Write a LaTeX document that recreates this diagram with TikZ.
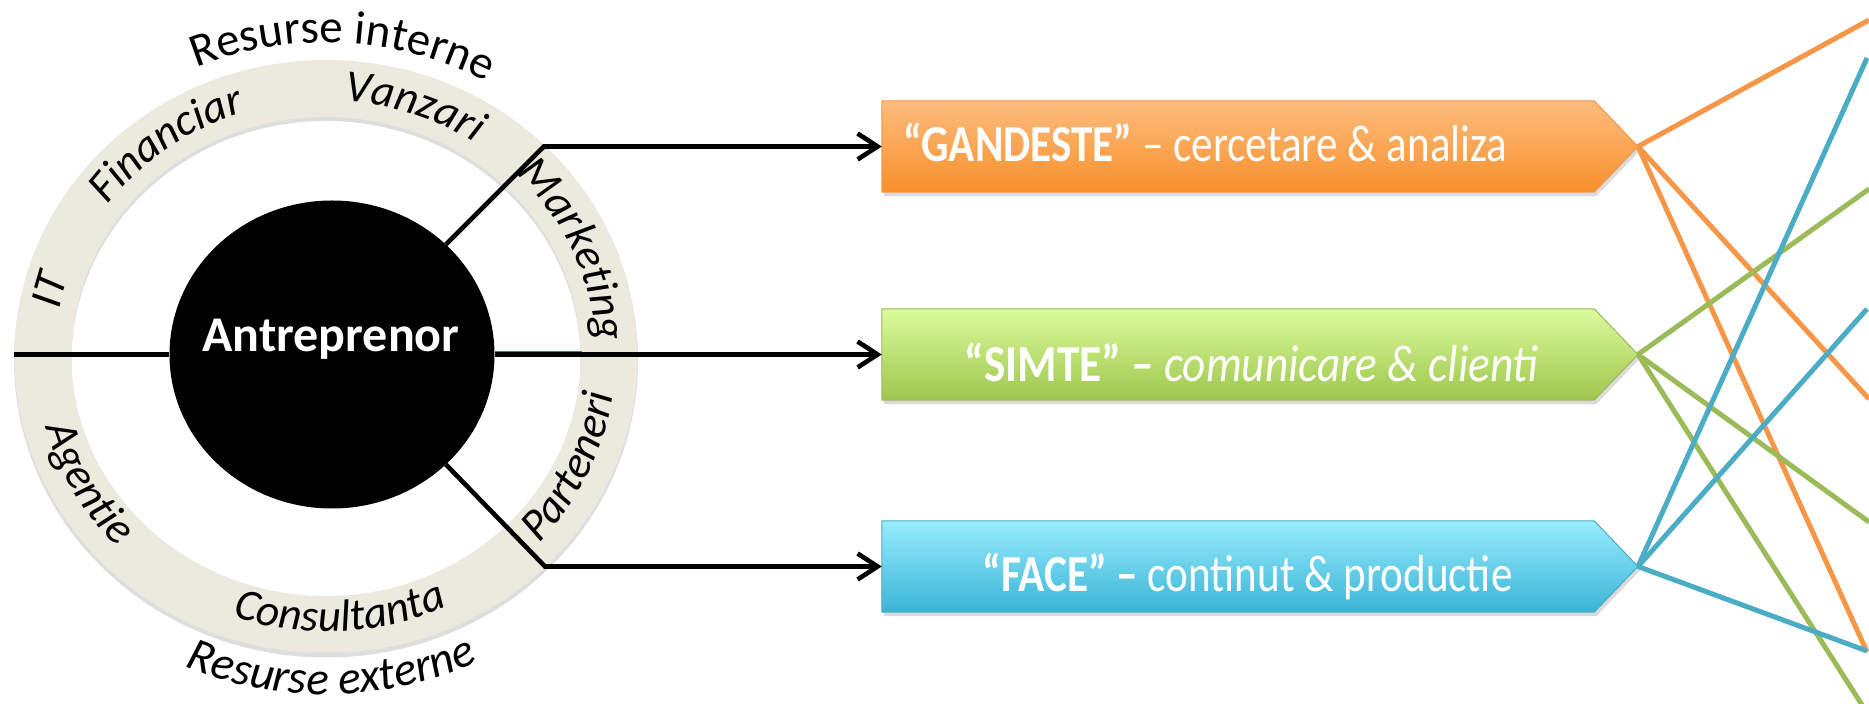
\documentclass[tikz,border=0pt]{standalone}
\usepackage{fontspec}
\setmainfont{Carlito}
\usepackage{graphicx}
\usetikzlibrary{arrows.meta,shapes.geometric,decorations.text,calc}
\definecolor{ringc}{RGB}{236,234,223}
\definecolor{oline}{RGB}{247,150,70}
\definecolor{gline}{RGB}{155,187,89}
\definecolor{bline}{RGB}{75,172,198}
\definecolor{otop}{RGB}{253,188,125}
\definecolor{obot}{RGB}{247,144,44}
\definecolor{gtop}{RGB}{219,251,156}
\definecolor{gbot}{RGB}{158,198,76}
\definecolor{btop}{RGB}{152,236,253}
\definecolor{bbot}{RGB}{58,180,214}
\definecolor{thinblue}{RGB}{68,114,196}
\newcommand\ringfont{\itshape\fontsize{45}{45}\selectfont}
\newcommand\outfont{\fontsize{47}{47}\selectfont}
\newcommand\outfontit{\itshape\fontsize{47}{47}\selectfont}
\newcommand\boxtext[2][0.83]{\scalebox{#1}[1]{\fontsize{52}{52}\selectfont #2}}
\begin{document}
\begin{tikzpicture}[x=1pt,y=1pt,
  conn/.style={line width=4.6pt, black},
  arr/.style={conn, -{Straight Barb[length=20pt,width=26pt]}},
  fanline/.style={line width=5pt},
  boxtxt/.style={inner sep=0pt, text=white},
  arclabel/.style={decorate, decoration={text along path, text align=center, text={#1}}},
  slot/.style={rectangle, minimum width=712pt, minimum height=91pt, inner sep=0pt},
  boxshadow/.style={fill=black, opacity=0.14},
]
\useasboundingbox (0,0) rectangle (1869,704);
\clip (0,0) rectangle (1869,704);

% ---------- ring ----------
\coordinate (rc) at (326,347.5);
\fill[black, opacity=0.13, even odd rule] ($(rc)+(0,-4)$) ellipse[x radius=312, y radius=297] ($(rc)+(0,-4)$) ellipse[x radius=254.5, y radius=239.5];
\fill[ringc, even odd rule] (rc) ellipse[x radius=311.5, y radius=296.5] (rc) ellipse[x radius=254.5, y radius=239.5];

% ring labels
\path[arclabel={|\ringfont|IT}] ($(rc)+(196:271 and 256)$) arc[start angle=196, end angle=136, x radius=271, y radius=256];
\path[arclabel={|\ringfont|Financiar}] ($(rc)+(166:271 and 256)$) arc[start angle=166, end angle=86, x radius=271, y radius=256];
\path[arclabel={|\ringfont|Vanzari}] ($(rc)+(111:271 and 256)$) arc[start angle=111, end angle=31, x radius=271, y radius=256];
\path[arclabel={|\ringfont|Marketing}] ($(rc)+(64:271 and 256)$) arc[start angle=64, end angle=-16, x radius=271, y radius=256];
\path[arclabel={|\ringfont|Parteneri}] ($(rc)+(-65:290 and 275)$) arc[start angle=-65, end angle=15, x radius=290, y radius=275];
\path[arclabel={|\ringfont|Consultanta}] ($(rc)+(-127:290 and 275)$) arc[start angle=-127, end angle=-47, x radius=290, y radius=275];
\path[arclabel={|\ringfont|Agentie}] ($(rc)+(169:290 and 275)$) arc[start angle=169, end angle=249, x radius=290, y radius=275];
\path[arclabel={|\outfont|Resurse interne}] ($(rc)+(130:332 and 314)$) arc[start angle=130, end angle=44, x radius=332, y radius=314];
\path[arclabel={|\outfontit|Resurse externe}] ($(rc)+(-134:355 and 338)$) arc[start angle=-134, end angle=-44, x radius=355, y radius=338];

% ---------- centre ----------
\node[ellipse, fill=black, minimum width=325pt, minimum height=308pt, inner sep=0pt] (antre) at (332,349.5) {};
\node[text=white, font=\bfseries\fontsize{50}{50}\selectfont, anchor=base, inner sep=0pt] (antrelabel) at (331,352) {Antreprenor};

\coordinate (ringL) at (14,349.5);
\coordinate (cutT) at (544,557.5);
\coordinate (cutB) at (545,137.5);
\coordinate (blueend) at (582,352.5);

% ---------- boxes ----------
\node[slot] (gandeste) at (1238,557.5) {};
\node[slot] (simte) at (1238,349.5) {};
\node[slot] (face) at (1238,137.5) {};
\coordinate (gandestetip) at (1638,557.5);
\coordinate (simtetip) at (1638,349.5);
\coordinate (facetip) at (1638,137.5);

\fill[boxshadow] ($(gandeste.north west)+(2,-4)$) -- ($(gandeste.north east)+(2,-4)$) -- ($(gandestetip)+(2,-4)$) -- ($(gandeste.south east)+(2,-4)$) -- ($(gandeste.south west)+(2,-4)$) -- cycle;
\fill[boxshadow] ($(simte.north west)+(2,-4)$) -- ($(simte.north east)+(2,-4)$) -- ($(simtetip)+(2,-4)$) -- ($(simte.south east)+(2,-4)$) -- ($(simte.south west)+(2,-4)$) -- cycle;
\fill[boxshadow] ($(face.north west)+(2,-4)$) -- ($(face.north east)+(2,-4)$) -- ($(facetip)+(2,-4)$) -- ($(face.south east)+(2,-4)$) -- ($(face.south west)+(2,-4)$) -- cycle;

\shade[top color=otop, bottom color=obot, draw=oline, line width=1pt] (gandeste.north west) -- (gandeste.north east) -- (gandestetip) -- (gandeste.south east) -- (gandeste.south west) -- cycle;
\shade[top color=gtop, bottom color=gbot, draw=gline, line width=1pt] (simte.north west) -- (simte.north east) -- (simtetip) -- (simte.south east) -- (simte.south west) -- cycle;
\shade[top color=btop, bottom color=bbot, draw=bline, line width=1pt] (face.north west) -- (face.north east) -- (facetip) -- (face.south east) -- (face.south west) -- cycle;

\node[boxtxt, anchor=base west] (gandestetext) at (903,542) {\boxtext{\textbf{“GANDESTE”} – cercetare \& analiza}};
\node[boxtxt, anchor=base] (simtetext) at (1251.5,322) {\boxtext[0.87]{\textbf{“SIMTE” –} \textit{comunicare \& clienti}}};
\node[boxtxt, anchor=base] (facetext) at (1247.5,112) {\boxtext{\textbf{“FACE” –} continut \& productie}};

% ---------- connectors ----------
\draw[thinblue, line width=1.3pt] ($(antre.east)+(0,3)$) -- (blueend);
\draw[conn] (ringL) -- (antre.west);
\draw[arr] (antre.east) -- (simte.west);
\draw[arr] (antre.44) -- (cutT) -- (gandeste.west);
\draw[arr] (antre.-44) -- (cutB) -- (face.west);

% ---------- fan lines ----------
\coordinate (o1) at (1869,684);
\coordinate (o2) at (1869,305);
\coordinate (o3) at (1867,52);
\coordinate (g1) at (1869,515);
\coordinate (g2) at (1869,182);
\coordinate (g3) at (1864,-4);
\coordinate (b1) at (1867,646);
\coordinate (b2) at (1867,395);
\coordinate (b3) at (1867,53);

\draw[fanline, oline] (gandestetip) -- (o1);
\draw[fanline, oline] (gandestetip) -- (o2);
\draw[fanline, oline] (gandestetip) -- (o3);
\draw[fanline, gline] (simtetip) -- (g1);
\draw[fanline, gline] (simtetip) -- (g2);
\draw[fanline, gline] (simtetip) -- (g3);
\draw[fanline, bline] (facetip) -- (b1);
\draw[fanline, bline] (facetip) -- (b2);
\draw[fanline, bline] (facetip) -- (b3);
\end{tikzpicture}
\end{document}
